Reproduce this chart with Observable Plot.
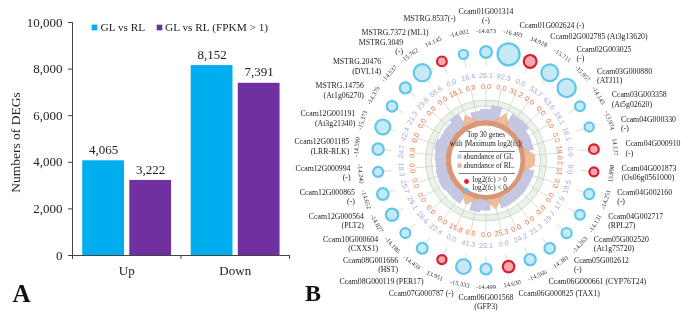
<!DOCTYPE html>
<html><head><meta charset="utf-8">
<script src="https://cdn.jsdelivr.net/npm/d3@7"></script>
<script src="https://cdn.jsdelivr.net/npm/@observablehq/plot@0.6"></script>
<style>
html,body{margin:0;padding:0;background:#fff}
#chart{position:relative;width:685px;height:314px;overflow:hidden;filter:blur(.35px)}
#chart svg{position:absolute;top:0;overflow:visible;background:transparent}
</style></head><body><div id="chart"></div>
<script>
// Panel A
const groups = ["Up", "Down"];
const seriesNames = ["GL vs RL", "GL vs RL (FPKM > 1)"];
const allDegs = [4065, 8152];
const filteredDegs = [3222, 7391];
const seriesColors = ["#00AEEF", "#7030A0"];

// Panel B, clockwise from the top
const geneLabels = ["Ccam01G001314\n(-)","Ccam01G002624 (-)","Ccam02G002785 (At3g13620)","Ccam02G003025\n(-)","Ccam03G000880\n(ATJ11)","Ccam03G003358\n(At5g02620)","Ccam04G000330\n(-)","Ccam04G000910\n(-)","Ccam04G001873\n(Os06g0561000)","Ccam04G002160\n(-)","Ccam04G002717\n(RPL27)","Ccam05G002520\n(At1g75720)","Ccam05G002612\n(-)","Ccam06G000661 (CYP76T24)","Ccam06G000825 (TAX1)","Ccam06G001568\n(GFP3)","Ccam07G000787 (-)","Ccam08G000119 (PER17)","Ccam08G001666\n(HST)","Ccam10G000604\n(CXXS1)","Ccam12G000564\n(PLT2)","Ccam12G000865\n(-)","Ccam12G000994\n(-)","Ccam12G001185\n(LRR-RLK)","Ccam12G001191\n(At3g21340)","MSTRG.14756\n(At1g06270)","MSTRG.20476\n(DVL14)","MSTRG.3049\n(-)","MSTRG.7372 (ML1)","MSTRG.8537(-)"];
const log2fc = [-14.673,-16.493,14.928,-15.711,-15.957,-14.145,-13.974,14.137,13.898,-14.251,-14.131,-14.263,-14.381,-14.566,14.630,-14.499,-15.333,13.951,-14.459,-14.186,-14.827,-14.652,-14.240,-14.590,-15.373,-14.379,-14.537,-15.762,14.145,-14.002];
const abundanceGL = [26.1,92.3,0,53.7,63.6,18.1,16.1,0,0,19.5,17.9,19.7,21.3,24.2,0,23.1,41.3,0,22.4,18.6,29.1,25.7,19.3,24.7,42.4,21.3,23.8,55.6,0,16.4];
const abundanceRL = [0,0,31.2,0,0,0,0,18.0,15.3,0,0,0,0,0,25.3,0,0,15.8,0,0,0,0,0,0,0,0,0,0,18.1,0];

const serif = "'Liberation Serif','Times New Roman',serif";
const chart = document.getElementById("chart");

/* ---------- Panel A ---------- */
const barWidth = 0.385;
const barOffsets = [0.094, 0.528];
const barRows = groups.flatMap((g, i) => [allDegs[i], filteredDegs[i]].map((v, s) => ({
  x1: i + barOffsets[s], x2: i + barOffsets[s] + barWidth, value: v, color: seriesColors[s]
})));
// page position inside panel A, measured from the frame's top-left corner
const corner = (x, y, extra) => ({frameAnchor: "top-left", dx: x - 72, dy: y - 22, ...extra});
const cornerText = (x, y, anchor, extra) => corner(x, y, {text: d => d, textAnchor: anchor, lineAnchor: "middle", fill: "#222", ...extra});

const panelA = Plot.plot({
  width: 293, height: 314,
  marginLeft: 72, marginRight: 4, marginTop: 22, marginBottom: 59,
  style: {fontFamily: serif, fontSize: "13px", color: "#222", background: "transparent"},
  x: {domain: [0, 2]},
  y: {domain: [0, 10000]},
  marks: [
    Plot.rectY(barRows, {x1: "x1", x2: "x2", y: "value", fill: "color"}),
    Plot.ruleX([0], {y1: 0, y2: 10000, stroke: "#444"}),
    Plot.ruleY([0], {stroke: "#444"}),
    Plot.ruleX([0, 1, 2], {y1: 0, y2: -170, stroke: "#444"}),
    Plot.axisY({ticks: [0,2000,4000,6000,8000,10000], tickFormat: d3.format(","), tickSize: 4, tickPadding: 6, label: null, stroke: "#444", color: "#222"}),
    Plot.axisX({ticks: [0.5, 1.5], tickSize: 0, tickPadding: 10, label: null, tickFormat: t => groups[t - 0.5]}),
    Plot.text(barRows, {x: d => (d.x1 + d.x2) / 2, y: "value", text: d => d3.format(",")(d.value), dy: -11, fill: "#222"}),
    Plot.text(["Numbers of DEGs"], cornerText(15, 142, "middle", {rotate: -90, fontSize: 13.5})),
    Plot.dot([0], corner(94, 27, {symbol: "square", r: 3.2, fill: seriesColors[0]})),
    Plot.dot([0], corner(159, 27, {symbol: "square", r: 3.2, fill: seriesColors[1]})),
    Plot.text([seriesNames[0]], cornerText(100, 27, "start", {fontSize: 11.3})),
    Plot.text([seriesNames[1]], cornerText(164.5, 27, "start", {fontSize: 11.3})),
    Plot.text(["A"], cornerText(21, 293, "middle", {fontSize: 25, fontWeight: "bold", fill: "#111"}))
  ]
});
panelA.style.left = "0px";
chart.appendChild(panelA);

/* ---------- Panel B ---------- */
const genes = geneLabels.map((label, i) => ({
  label, fc: log2fc[i], gl: abundanceGL[i], rl: abundanceRL[i],
  deg: i * 360 / geneLabels.length
}));
const px = (r, deg) => r * Math.sin(deg * Math.PI / 180);
const py = (r, deg) => r * Math.cos(deg * Math.PI / 180);
const tangent = deg => (deg > 90 && deg < 270 ? deg - 180 : deg);
const closed = [...genes, {...genes[0]}];
// each gene's GL wedge spans its own sector
const wedgeEdges = genes.flatMap(d => [{...d, deg: d.deg - 6}, {...d, deg: d.deg + 6}]);
const closedWedges = [...wedgeEdges, {...wedgeEdges[0]}];

const rInner = 34.5, rBase = 40, rGrid = 54.5, rOuter = 60.5;
const radial = v => rBase + 3.4 * Math.log(1 + v);

function ringText(r, text, options) {
  return Plot.text(genes, {
    x: d => px(r(d), d.deg), y: d => py(r(d), d.deg),
    rotate: d => tangent(d.deg), text, ...options
  });
}
const disc = (r, fill, stroke) => Plot.dot([0], {x: () => 0, y: () => 0, r, fill, stroke, strokeWidth: 0.8});
// outer names sit on a rounded box rather than a true circle
const labelR = d => {
  const extra = d.deg === 0 || d.deg === 180 || d.deg === 348 ? 5 : 0;
  if (d.deg < 90) return extra + 140;
  if (d.deg < 270) return extra + 136;
  if (d.deg < 300) return extra + 137.5;
  return extra + 141;
};
const labelDeg = d => d.deg < 270 ? d.deg + 4.5 * Math.sin(2 * d.deg * Math.PI / 180) : d.deg;
function labelMark(test, anchor) {
  return Plot.text(genes.filter(test), {
    x: d => px(labelR(d), labelDeg(d)), y: d => py(labelR(d), labelDeg(d)),
    text: "label", textAnchor: anchor, lineAnchor: "middle", lineHeight: 1.2,
    fontSize: 7.8, fill: "#222"
  });
}
const isUp = d => d.fc > 0;
const bubbleR = d => 108.5;

const panelB = Plot.plot({
  width: 395, height: 314, margin: 0,
  style: {fontFamily: serif, fontSize: "7px", background: "transparent"},
  x: {domain: [-195.5, 199.5], range: [0, 395], axis: null},
  y: {domain: [-154, 160], range: [314, 0], axis: null},
  r: {domain: [0, 92.3], range: [0, 11]},
  marks: [
    disc(rOuter, "#EBF2EA", "#C3D3C2"),
    disc(rGrid, "#FFFFFF", "#C3D3C2"),
    Plot.area(closedWedges, {x1: d => px(rBase, d.deg), y1: d => py(rBase, d.deg), x2: d => px(radial(d.gl), d.deg), y2: d => py(radial(d.gl), d.deg), fill: "#C4C6E3"}),
    Plot.area(closed, {x1: d => px(rBase, d.deg), y1: d => py(rBase, d.deg), x2: d => px(radial(d.rl), d.deg), y2: d => py(radial(d.rl), d.deg), fill: "#F0AE82", fillOpacity: 0.85}),
    Plot.dot([45, 50], {x: () => 0, y: () => 0, r: d => d, stroke: "#8E9AA8", strokeOpacity: 0.35, strokeWidth: 0.6, fill: "none"}),
    Plot.link(genes, {x1: d => px(rBase, d.deg), y1: d => py(rBase, d.deg), x2: d => px(72, d.deg), y2: d => py(72, d.deg), stroke: "#C6D2BC", strokeWidth: 0.7}),
    Plot.link(genes, {x1: d => px(95, d.deg), y1: d => py(95, d.deg), x2: d => px(bubbleR(d), d.deg), y2: d => py(bubbleR(d), d.deg), stroke: "#CBD5BF", strokeWidth: 0.8}),
    Plot.area(closed, {x1: d => px(rInner, d.deg), y1: d => py(rInner, d.deg), x2: d => px(rBase, d.deg), y2: d => py(rBase, d.deg), fill: "#D9977A"}),
    disc(rInner, "#FFFFFF", "none"),
    Plot.dot(genes, {x: d => px(bubbleR(d), d.deg), y: d => py(bubbleR(d), d.deg), r: d => Math.max(d.gl, d.rl), fill: d => isUp(d) ? "#F2A9B0" : "#C6E9F6", stroke: d => isUp(d) ? "#D81E30" : "#62C6EC", strokeWidth: 2.2}),
    ringText(() => 74, d => d.rl.toFixed(1), {fontSize: 7.2, fill: "#E8703F", fontFamily: "'Liberation Sans',sans-serif"}),
    ringText(() => 85, d => d.gl.toFixed(1), {fontSize: 7.2, fill: "#A8A6D6", fontFamily: "'Liberation Sans',sans-serif"}),
    ringText(d => (d.deg > 90 && d.deg < 270 ? 126 : 130), d => d.fc.toFixed(3), {fontSize: 6.4, fill: "#333"}),
    labelMark(d => d.deg > 0 && d.deg < 180, "start"),
    labelMark(d => d.deg > 180, "end"),
    labelMark(d => d.deg === 0 || d.deg === 180, "middle"),
    // centre key
    Plot.text(["Top 30 genes"], {x: () => 0, y: () => 26, text: d => d, fontSize: 7.2, fill: "#222"}),
    Plot.text(["with |Maximum log2(fc)|"], {x: () => 0, y: () => 17, text: d => d, fontSize: 7.2, fill: "#222"}),
    Plot.link([9, -13], {x1: () => -27, x2: () => 29, y1: d => d, y2: d => d, stroke: "#555", strokeWidth: 0.8}),
    Plot.dot([4], {x: () => -26.5, y: d => d, symbol: "square", r: 2.4, fill: "#C4C6E3"}),
    Plot.dot([-5], {x: () => -26.5, y: d => d, symbol: "square", r: 2.4, fill: "#F0AE82"}),
    Plot.text(["abundance of GL"], {x: () => -22.5, y: () => 4, text: d => d, textAnchor: "start", fontSize: 7.2, fill: "#222"}),
    Plot.text(["abundance of RL."], {x: () => -22.5, y: () => -5, text: d => d, textAnchor: "start", fontSize: 7.2, fill: "#222"}),
    Plot.dot([-21], {x: () => -19.5, y: d => d, r: 2.4, fill: "#D81E30"}),
    Plot.dot([-30], {x: () => -19.5, y: d => d, r: 2.4, fill: "#62C6EC"}),
    Plot.text(["log2(fc) > 0"], {x: () => -13.5, y: () => -19, text: d => d, textAnchor: "start", fontSize: 7.2, fill: "#222"}),
    Plot.text(["log2(fc) < 0"], {x: () => -13.5, y: () => -27, text: d => d, textAnchor: "start", fontSize: 7.2, fill: "#222"}),
    Plot.text(["B"], {x: () => -173, y: () => -133, text: d => d, fontSize: 24, fontWeight: "bold", fill: "#111"})
  ]
});
panelB.style.left = "290px";
chart.appendChild(panelB);
</script></body></html>
